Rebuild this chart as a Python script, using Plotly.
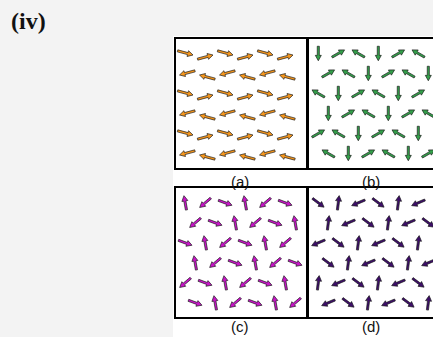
import numpy as np
import plotly.graph_objects as go

# ---------------- data: spin angles (degrees, counter-clockwise from +x) ----------------
angles_a = [
    [-15, 15, -15, 15, -15, 15],
    [195, 165, 195, 165, 195, 165],
    [-15, 15, -15, 15, -15, 15],
    [195, 165, 195, 165, 195, 165],
    [-15, 15, -15, 15, -15, 15],
    [195, 165, 195, 165, 195, 165],
]
angles_b = [
    [270, 30, 150, 270, 30, 150],
    [30, 150, 270, 30, 150, 270],
    [150, 270, 30, 150, 270, 30],
    [270, 30, 150, 270, 30, 150],
    [30, 150, 270, 30, 150, 270],
    [150, 270, 30, 150, 270, 30],
]
angles_c = [
    [100, 220, 340, 100, 220, 340],
    [220, 340, 100, 220, 340, 100],
    [340, 100, 220, 340, 100, 220],
    [100, 220, 340, 100, 220, 340],
    [220, 340, 100, 220, 340, 100],
    [340, 100, 220, 340, 100, 220],
]
angles_d = [
    [323, 83, 203, 323, 83, 203],
    [83, 203, 323, 83, 203, 323],
    [203, 323, 83, 203, 323, 83],
    [323, 83, 203, 323, 83, 203],
    [83, 203, 323, 83, 203, 323],
    [203, 323, 83, 203, 323, 83],
]
panel_labels = ["(a)", "(b)", "(c)", "(d)"]
title_text = "(iv)"

# ---------------- layout / style ----------------
W, H = 433, 337
colors = ["#f5961c", "#33a04a", "#c814c8", "#3c0d68"]

panels = [
    dict(ang=angles_a, box=(176, 39, 306, 168), color=colors[0], L=16.0, pivot="tip",
         x0=17.0, odd_shift=-13.5, y0=16.0),
    dict(ang=angles_b, box=(309, 39, 433, 168), color=colors[1], L=14.5, pivot="mid",
         x0=9.3, odd_shift=10.0, y0=14.5),
    dict(ang=angles_c, box=(176, 188, 306, 317), color=colors[2], L=14.5, pivot="mid",
         x0=9.2, odd_shift=10.0, y0=14.8),
    dict(ang=angles_d, box=(309, 188, 433, 317), color=colors[3], L=14.5, pivot="mid",
         x0=9.3, odd_shift=10.0, y0=14.8),
]
label_pos = [(240, 181), (371, 181), (240, 326), (371, 326)]
SP = 20.0  # lattice spacing (px)


def arrow_poly(tx, ty, th, L, ws=1.05, wh=3.0, hl=5.4):
    ux, uy = np.cos(np.radians(th)), -np.sin(np.radians(th))
    nx, ny = -uy, ux
    b = L - hl
    pts = [
        (tx + nx * ws, ty + ny * ws),
        (tx + ux * b + nx * ws, ty + uy * b + ny * ws),
        (tx + ux * b + nx * wh, ty + uy * b + ny * wh),
        (tx + ux * L, ty + uy * L),
        (tx + ux * b - nx * wh, ty + uy * b - ny * wh),
        (tx + ux * b - nx * ws, ty + uy * b - ny * ws),
        (tx - nx * ws, ty - ny * ws),
        (tx + nx * ws, ty + ny * ws),
    ]
    return pts


fig = go.Figure()
layout_axes = {}
for k, p in enumerate(panels):
    xs, ys = [], []
    for i, row in enumerate(p["ang"]):
        for j, th in enumerate(row):
            ax = p["x0"] + SP * j + (p["odd_shift"] if i % 2 else 0.0)
            ay = p["y0"] + SP * i
            ux, uy = np.cos(np.radians(th)), -np.sin(np.radians(th))
            if p["pivot"] == "tip":
                tx, ty = ax - p["L"] * ux, ay - p["L"] * uy
            else:
                tx, ty = ax - p["L"] / 2 * ux, ay - p["L"] / 2 * uy
            for (px, py) in arrow_poly(tx, ty, th, p["L"]):
                xs.append(px)
                ys.append(py)
            xs.append(None)
            ys.append(None)
    sfx = "" if k == 0 else str(k + 1)
    fig.add_trace(go.Scatter(
        x=xs, y=ys, mode="lines", fill="toself", fillcolor=p["color"],
        line=dict(color="#1c1c1c", width=0.7), hoverinfo="skip", showlegend=False,
        xaxis="x" + sfx, yaxis="y" + sfx,
    ))
    x0, y0, x1, y1 = p["box"]
    pw, ph = x1 - x0, y1 - y0
    clipped = x1 >= W
    layout_axes["xaxis" + sfx] = dict(
        domain=[x0 / W, x1 / W], range=[0, pw], anchor="y" + sfx,
        showgrid=False, zeroline=False, showticklabels=False, ticks="",
        showline=True, linecolor="black", linewidth=1.6, mirror=True, fixedrange=True,
    )
    layout_axes["yaxis" + sfx] = dict(
        domain=[1 - y1 / H, 1 - y0 / H], range=[ph, 0], anchor="x" + sfx,
        showgrid=False, zeroline=False, showticklabels=False, ticks="",
        showline=True, linecolor="black", linewidth=1.6, mirror=not clipped,
        fixedrange=True,
    )

annotations = []
for lab, (lx, ly) in zip(panel_labels, label_pos):
    annotations.append(dict(
        text=lab, x=lx / W, y=1 - ly / H, xref="paper", yref="paper",
        xanchor="center", yanchor="middle", showarrow=False,
        font=dict(family="Liberation Sans, Arial, sans-serif", size=15, color="#111111"),
    ))
annotations.append(dict(
    text="<b>" + title_text + "</b>", x=9 / W, y=1 - 21 / H, xref="paper", yref="paper",
    xanchor="left", yanchor="middle", showarrow=False,
    font=dict(family="Liberation Serif, Times New Roman, serif", size=24, color="#111111"),
))

fig.update_layout(
    width=W, height=H, margin=dict(l=0, r=0, t=0, b=0),
    paper_bgcolor="#f3f3f3", plot_bgcolor="white",
    annotations=annotations,
    shapes=[dict(type="rect", xref="paper", yref="paper", x0=173 / W, x1=1.0,
                 y0=0, y1=1 - 36 / H, fillcolor="white", line=dict(width=0), layer="below")],
    **layout_axes,
)
fig.write_html(
    "out.html",
    config=dict(displayModeBar=False),
    post_script="document.body.style.margin='0';document.body.style.overflow='hidden';",
)
